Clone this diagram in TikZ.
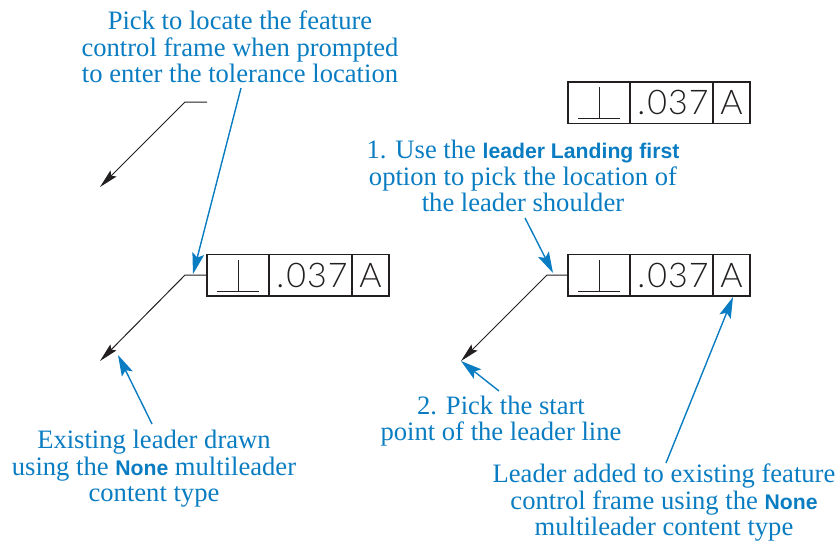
\documentclass[tikz,border=0pt]{standalone}
\usepackage{fontspec}
\setmainfont{Liberation Serif}
\newfontfamily\boldsans{Liberation Sans}[UprightFont=* Bold]
\newfontfamily\framefont{Lato}[UprightFont=* Light]
\usetikzlibrary{arrows.meta}
\definecolor{callout}{HTML}{0A7DC2}
\definecolor{inkline}{HTML}{231F20}
\newcommand{\hl}[1]{{\boldsans\fontsize{21.2}{26}\selectfont #1}}
\tikzset{
  x=1pt,y=-1pt,
  cell/.style={draw=inkline,line width=1.1pt,minimum height=41.5pt,inner sep=0pt,outer sep=0pt,anchor=north west,text=inkline,
    font=\framefont\fontsize{34}{34}\selectfont},
  note/.style={text=callout,align=center,inner sep=0pt,font=\fontsize{26.6}{26.6}\selectfont},
  leader/.style={draw=inkline,line width=1pt,-{Stealth[length=19pt,width=8.5pt,inset=3pt]}},
  pointer/.style={draw=callout,line width=1.4pt,-{Stealth[length=21pt,width=12pt,inset=4pt]}},
  datum/.style={draw=inkline,line width=1pt},
}
\newcommand{\fcf}[3]{%
  \node[cell,minimum width=62pt] (#1a) at (#2,#3) {};
  \node[cell,minimum width=83pt] (#1b) at (#2+62,#3) {\kern3pt.\kern2pt 0\kern1pt 3\kern1pt 7};
  \node[cell,minimum width=37pt] (#1c) at (#2+145,#3) {A};
  \draw[datum] (#2+10,#3+36.5) -- (#2+52,#3+36.5) (#2+31,#3+5) -- (#2+31,#3+36.5);
}
\begin{document}
\begin{tikzpicture}
\useasboundingbox (0,0) rectangle (838,541);
\fcf{p}{207}{254.5}
\fcf{q}{568}{82}
\fcf{r}{568}{254.5}
% leaders
\coordinate (t0) at (207,102); \coordinate (t1) at (185,102); \coordinate (t2) at (100,187);
\coordinate (m1) at (185,275); \coordinate (m2) at (100,361);
\coordinate (n1) at (547,275); \coordinate (n2) at (461,361);
\draw[leader] (t0) -- (t1) -- (t2);
\draw[leader] (pa.west) -- (m1) -- (m2);
\draw[leader] (ra.west) -- (n1) -- (n2);
% notes
\node[note] (a) at (240,47) {Pick to locate the feature\\control frame when prompted\\to enter the tolerance location};
\node[note] (b) at (523,176) {1. Use the \hl{leader Landing first}\\option to pick the location of\\the leader shoulder};
\node[note] (c) at (154,469) {Existing leader drawn\\using the \hl{None} multileader\\content type};
\node[note] (d) at (501,421) {2. Pick the start\\point of the leader line};
\node[note] (e) at (664,502.5) {Leader added to existing feature\\control frame using the \hl{None}\\multileader content type};
% pointers
\coordinate (a1) at (241,88); \coordinate (a2) at (193,274);
\coordinate (b1) at (525,218); \coordinate (b2) at (553,273);
\coordinate (c1) at (152,424); \coordinate (c2) at (118,355);
\coordinate (d1) at (499,391); \coordinate (d2) at (461,361);
\coordinate (e1) at (666,463); \coordinate (e2) at (733,297);
\draw[pointer] (a1) -- (a2);
\draw[pointer] (b1) -- (b2);
\draw[pointer] (c1) -- (c2);
\draw[pointer] (d1) -- (d2);
\draw[pointer] (e1) -- (e2);
\end{tikzpicture}
\end{document}
